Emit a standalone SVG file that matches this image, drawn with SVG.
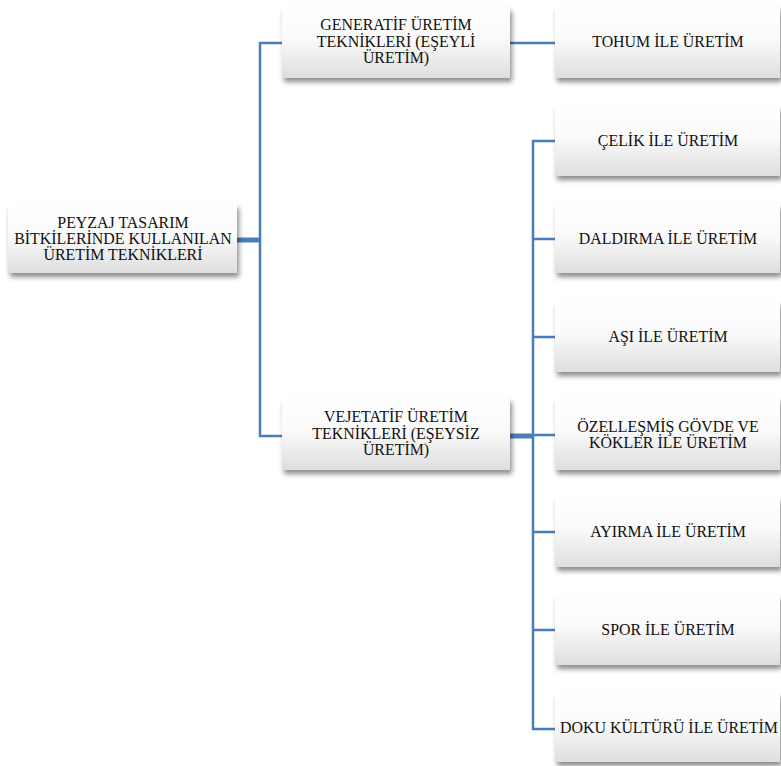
<svg xmlns="http://www.w3.org/2000/svg" width="781" height="766" viewBox="0 0 781 766">
<defs>
<linearGradient id="g" x1="0" y1="0" x2="0" y2="1">
<stop offset="0" stop-color="#ffffff"/>
<stop offset="0.45" stop-color="#fafafa"/>
<stop offset="1" stop-color="#dedede"/>
</linearGradient>
<filter id="sh" x="-10%" y="-10%" width="125%" height="140%">
<feDropShadow dx="2" dy="4" stdDeviation="2.5" flood-color="#000" flood-opacity="0.45"/>
</filter>
</defs>
<style>
.box{fill:url(#g);filter:url(#sh);}
.t{font-family:"Liberation Serif","Times New Roman",serif;font-size:15.9px;fill:#111;text-anchor:middle;}
.c{stroke:#4a7ebb;stroke-width:2.5;fill:none;}
.ct{stroke:#4a7ebb;stroke-width:5;fill:none;}
</style>
<rect width="781" height="766" fill="#ffffff"/>
<g id="connectors">
<path class="ct" d="M237 240H261"/>
<path class="c" d="M282 43H260V436H282"/>
<path class="c" d="M510 43H555"/>
<path class="ct" d="M510 436H534"/>
<path class="c" d="M555 141H533V729H555"/>
<path class="c" d="M533 239H555M533 337H555M533 435H555M533 532H555M533 630H555"/>
</g>
<g id="root">
<rect class="box" x="8" y="204" width="229" height="69"/>
<text class="t" x="123" y="228">PEYZAJ TASARIM</text>
<text class="t" x="123" y="244">BİTKİLERİNDE KULLANILAN</text>
<text class="t" x="123" y="260">ÜRETİM TEKNİKLERİ</text>
</g>
<g id="generatif">
<rect class="box" x="282" y="7" width="228" height="71"/>
<text class="t" x="396" y="30">GENERATİF ÜRETİM</text>
<text class="t" x="396" y="46.5">TEKNİKLERİ (EŞEYLİ</text>
<text class="t" x="396" y="63">ÜRETİM)</text>
</g>
<g id="vejetatif">
<rect class="box" x="282" y="398" width="228" height="72"/>
<text class="t" x="396" y="422">VEJETATİF ÜRETİM</text>
<text class="t" x="396" y="439">TEKNİKLERİ (EŞEYSİZ</text>
<text class="t" x="396" y="455">ÜRETİM)</text>
</g>
<g id="tohum">
<rect class="box" x="555" y="7" width="225" height="71"/>
<text class="t" x="668" y="47">TOHUM İLE ÜRETİM</text>
</g>
<g id="celik">
<rect class="box" x="555" y="106" width="225" height="70"/>
<text class="t" x="668" y="146">ÇELİK İLE ÜRETİM</text>
</g>
<g id="daldirma">
<rect class="box" x="555" y="204" width="225" height="69"/>
<text class="t" x="668" y="244">DALDIRMA İLE ÜRETİM</text>
</g>
<g id="asi">
<rect class="box" x="555" y="302" width="225" height="70"/>
<text class="t" x="668" y="342">AŞI İLE ÜRETİM</text>
</g>
<g id="ozel">
<rect class="box" x="555" y="398" width="225" height="72"/>
<text class="t" x="668" y="431.5">ÖZELLEŞMİŞ GÖVDE VE</text>
<text class="t" x="668" y="448">KÖKLER İLE ÜRETİM</text>
</g>
<g id="ayirma">
<rect class="box" x="555" y="497" width="225" height="70"/>
<text class="t" x="668" y="537">AYIRMA İLE ÜRETİM</text>
</g>
<g id="spor">
<rect class="box" x="555" y="595" width="225" height="70"/>
<text class="t" x="668" y="635">SPOR İLE ÜRETİM</text>
</g>
<g id="doku">
<rect class="box" x="555" y="693" width="225" height="69"/>
<text class="t" x="669" y="733">DOKU KÜLTÜRÜ İLE ÜRETİM</text>
</g>
</svg>
